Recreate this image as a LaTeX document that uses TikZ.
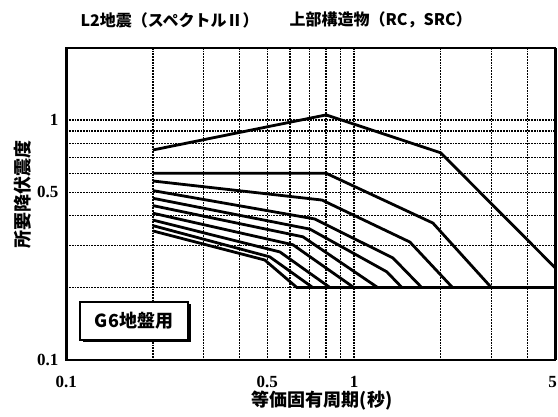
\documentclass[tikz,border=0pt]{standalone}
\usepackage{fontspec}
\setmainfont{Liberation Serif}
\newfontfamily\jpfont{Noto Sans CJK JP}
\usetikzlibrary{shadows}
% one curve: starts at T=0.2, then T/k pairs
\newcommand{\kcurve}[2]{\draw[curve] ({px(0.2)},{py(#1)}) foreach \t/\k in {#2} { -- ({px(\t)},{py(\k)}) };}

\begin{document}
\begin{tikzpicture}[x=1pt,y=-1pt,
    declare function={px(\t)=66+288*(log10(\t)+1); py(\k)=360-240*(log10(\k)+1);},
    grid/.style={line width=1.3pt,dash pattern=on 1.8pt off 1pt},
    curve/.style={line width=2.8pt,line join=round},
    jp/.style={font=\jpfont\bfseries\fontsize{#1}{#1}\selectfont},
    tick/.style={font=\bfseries\fontsize{17}{17}\selectfont}]
  \useasboundingbox (0,0) rectangle (558,417);
  % grid
  \foreach \t in {0.2,0.3,0.4,0.5,0.6,0.7,0.8,0.9,1,2,3,4}
    \draw[grid] ({px(\t)},{py(2)}) -- ({px(\t)},{py(0.1)});
  \foreach \k in {0.2,0.3,0.4,0.5,0.6,0.7,0.8,0.9,1}
    \draw[grid] ({px(0.1)},{py(\k)}) -- ({px(5)},{py(\k)});
  % frame
  \draw[line width=2pt] ({px(0.1)},{py(2)}) rectangle ({px(5)},{py(0.1)});
  \draw[line width=3pt] ({px(0.1)},{py(2)}) -- ({px(0.1)},{py(0.1)});
  \draw[line width=3.5pt] ({px(5)},{py(2)}) -- ({px(5)},{py(0.1)});
  % curves
  \kcurve{0.75}{0.8/1.05, 2/0.73, 5/0.242}
  \kcurve{0.6}{0.8/0.6, 1.88/0.372, 3/0.2}
  \kcurve{0.557}{0.774/0.464, 1.564/0.31, 2.2/0.2}
  \kcurve{0.508}{0.73/0.387, 1.366/0.266, 1.72/0.2}
  \kcurve{0.472}{0.703/0.351, 1.3/0.233, 1.468/0.2}
  \kcurve{0.44}{0.665/0.326, 1.21/0.2}
  \kcurve{0.409}{0.614/0.302, 1.0/0.2}
  \kcurve{0.383}{0.553/0.282, 0.826/0.2}
  \kcurve{0.363}{0.51/0.269, 0.72/0.2}
  \kcurve{0.345}{0.49/0.261, 0.634/0.2}
  \draw[curve] ({px(0.63)},{py(0.2)}) -- ({px(5)},{py(0.2)});
  % texts
  \node[jp=16,anchor=west] (title1) at (77,20) {L2地震（スペクトルⅡ）};
  \node[jp=16,anchor=west] (title2) at (286,20) {上部構造物（RC，SRC）};
  \node[jp=18,rotate=90] (ylabel) at (23,195) {所要降伏震度};
  \node[jp=18] (xlabel) at (322,401) {等価固有周期(秒)};
  \node[jp=18,draw,line width=1.6pt,fill=white,minimum width=108,minimum height=38,
    drop shadow={shadow xshift=2.5pt,shadow yshift=-2.5pt,fill=black,opacity=1}]
    (g6) at (134,321) {G6地盤用};
  \foreach \k/\s [count=\i] in {1/1,0.5/0.5,0.1/0.1}
    \node[tick,anchor=east] (yt\i) at (62,{py(\k)}) {\s};
  \foreach \t/\s [count=\i] in {0.1/0.1,0.5/0.5,1/1}
    \node[tick] (xt\i) at ({px(\t)},382) {\s};
  \node[tick,anchor=east,inner xsep=1pt] (xt4) at (558,382) {5};
\end{tikzpicture}
\end{document}
